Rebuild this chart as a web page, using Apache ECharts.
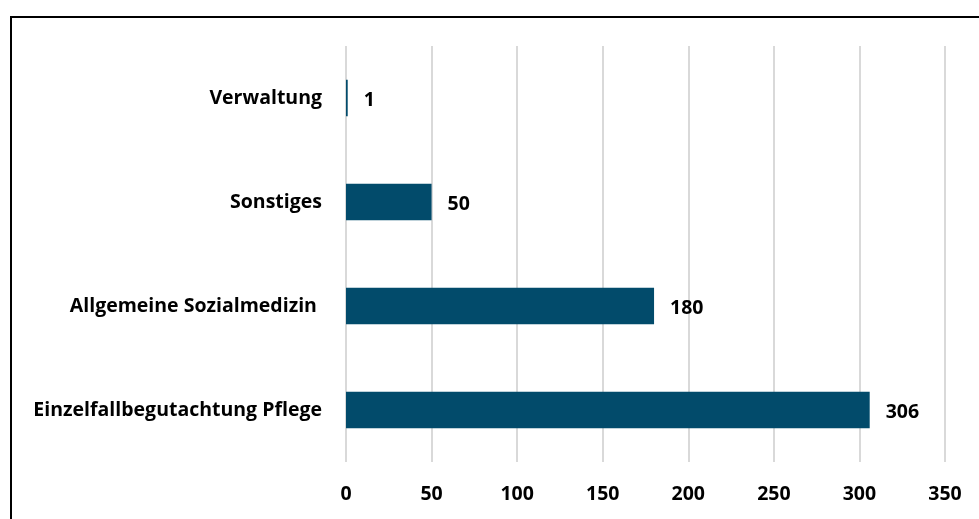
<!DOCTYPE html>
<html>
<head>
<meta charset="utf-8">
<script src="https://cdn.jsdelivr.net/npm/echarts@6/dist/echarts.min.js"></script>
<style>
  html, body { margin: 0; padding: 0; background: #fff; }
  #chart { width: 979px; height: 519px; }
</style>
</head>
<body>
<div id="chart"></div>
<script>
  // categories bottom-to-top as echarts draws a category yAxis
  const categories = ["Einzelfallbegutachtung Pflege", "Allgemeine Sozialmedizin ", "Sonstiges", "Verwaltung"];
  const values = [306, 180, 50, 1];
  const xTicks = {min: 0, max: 350, interval: 50};

  const font = "'Open Sans', 'Noto Sans', sans-serif";
  const chart = echarts.init(document.getElementById("chart"));
  chart.setOption({
    animation: false,
    graphic: [{
      type: "rect",
      shape: {x: 11, y: 17, width: 1100, height: 700},
      style: {fill: "none", stroke: "#000", lineWidth: 2},
      silent: true
    }],
    grid: {left: 346, right: 34, top: 46, bottom: 57, containLabel: false},
    xAxis: {
      type: "value",
      min: xTicks.min, max: xTicks.max, interval: xTicks.interval,
      axisLine: {show: false},
      axisTick: {show: false},
      splitLine: {show: true, lineStyle: {color: "#d9d9d9", width: 2}},
      axisLabel: {color: "#000", fontFamily: font, fontWeight: "bold", fontSize: 19.5, margin: 22}
    },
    yAxis: {
      type: "category",
      data: categories,
      axisLine: {show: false},
      axisTick: {show: false},
      axisLabel: {color: "#000", fontFamily: font, fontWeight: "bold", fontSize: 19.5, margin: 24}
    },
    series: [{
      type: "bar",
      data: values,
      barWidth: "35%",
      itemStyle: {color: "#024b6b"},
      label: {
        show: true, position: "right", distance: 16, offset: [0, 2],
        color: "#000", fontFamily: font, fontWeight: "bold", fontSize: 19.5
      }
    }]
  });
</script>
</body>
</html>
